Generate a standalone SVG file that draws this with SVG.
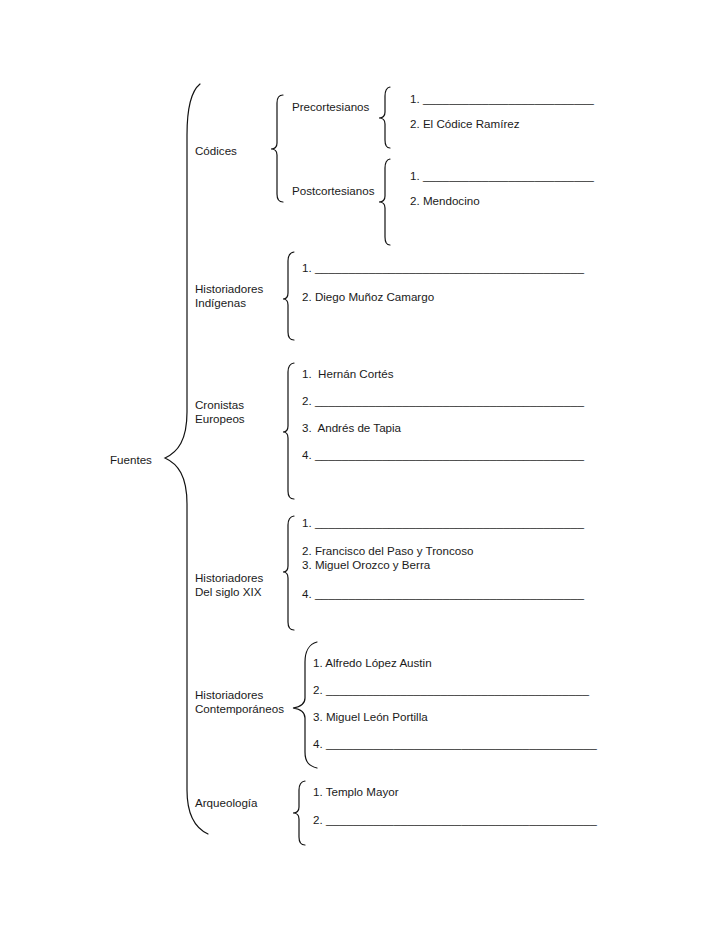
<svg xmlns="http://www.w3.org/2000/svg" width="728" height="943" viewBox="0 0 728 943">
<style>
text{font-family:"Liberation Sans",Arial,sans-serif;font-size:11.6px;fill:#1a1a1a}
.b{fill:none;stroke:#111;stroke-width:1.2;stroke-linecap:round}
</style>
<rect width="728" height="943" fill="#fff"/>
<g id="connectors">
<path class="b" d="M200,84 C190,92 187,110 187,135 L187,412 C187,440 178,452 165,458 C178,464 187,476 187,504 L187,790 C187,815 195,828 208,834"/>
<path class="b" d="M283,95 Q277,95 277,103 L277,143 Q277,149 271,149 Q277,149 277,155 L277,194 Q277,202 283,202"/>
<path class="b" d="M390,87 Q385,88 385,96 L385,112 Q385,118 379,118 Q385,118 385,124 L385,140 Q385,148 390,148"/>
<path class="b" d="M390,159 Q385,160 385,168 L385,196 Q385,202 379,202 Q385,202 385,208 L385,237 Q385,245 390,245"/>
<path class="b" d="M294,252 Q288,253 288,261 L288,293 Q288,299 283,299 Q288,299 288,305 L288,332 Q288,340 294,340"/>
<path class="b" d="M294,363 Q288,364 288,372 L288,426 Q288,432 283,432 Q288,432 288,438 L288,491 Q288,499 294,499"/>
<path class="b" d="M294,516 Q288,517 288,525 L288,566 Q288,572 283,572 Q288,572 288,578 L288,622 Q288,630 294,630"/>
<path class="b" d="M317,642 C309,644 305,652 305,662 L305,698 C305,704 300,707 293,708 C300,709 305,712 305,718 L305,752 C305,762 309,766 317,768"/>
<path class="b" d="M305,781 Q299,782 299,790 L299,807 Q299,813 293,813 Q299,813 299,819 L299,837 Q299,845 305,845"/>
</g>
<g id="fuentes"><text x="110" y="464">Fuentes</text></g>
<g id="codices"><text x="195" y="155">Códices</text></g>
<g id="precortesianos"><text x="292" y="111">Precortesianos</text></g>
<g id="postcortesianos"><text x="292" y="195">Postcortesianos</text></g>
<g id="pre-items">
<text x="410" y="103">1. <tspan textLength="171" lengthAdjust="spacingAndGlyphs">__________________________</tspan></text>
<text x="410" y="128">2. El Códice Ramírez</text>
</g>
<g id="post-items">
<text x="410" y="180">1. <tspan textLength="171" lengthAdjust="spacingAndGlyphs">__________________________</tspan></text>
<text x="410" y="205">2. Mendocino</text>
</g>
<g id="indigenas">
<text x="195" y="293">Historiadores</text>
<text x="195" y="307">Indígenas</text>
</g>
<g id="indigenas-items">
<text x="302" y="272">1. <tspan textLength="269" lengthAdjust="spacingAndGlyphs">________________________________________</tspan></text>
<text x="302" y="301">2. Diego Muñoz Camargo</text>
</g>
<g id="cronistas">
<text x="195" y="409">Cronistas</text>
<text x="195" y="423">Europeos</text>
</g>
<g id="cronistas-items">
<text x="302" y="378" xml:space="preserve">1.  Hernán Cortés</text>
<text x="302" y="405">2. <tspan textLength="269" lengthAdjust="spacingAndGlyphs">________________________________________</tspan></text>
<text x="302" y="432" xml:space="preserve">3.  Andrés de Tapia</text>
<text x="302" y="459">4. <tspan textLength="269" lengthAdjust="spacingAndGlyphs">________________________________________</tspan></text>
</g>
<g id="sigloxix">
<text x="195" y="582">Historiadores</text>
<text x="195" y="596">Del siglo XIX</text>
</g>
<g id="sigloxix-items">
<text x="302" y="527">1. <tspan textLength="269" lengthAdjust="spacingAndGlyphs">________________________________________</tspan></text>
<text x="302" y="555">2. Francisco del Paso y Troncoso</text>
<text x="302" y="569">3. Miguel Orozco y Berra</text>
<text x="302" y="598">4. <tspan textLength="269" lengthAdjust="spacingAndGlyphs">________________________________________</tspan></text>
</g>
<g id="contemporaneos">
<text x="195" y="699">Historiadores</text>
<text x="195" y="713">Contemporáneos</text>
</g>
<g id="contemporaneos-items">
<text x="313" y="667">1. Alfredo López Austin</text>
<text x="313" y="694">2. <tspan textLength="263" lengthAdjust="spacingAndGlyphs">_______________________________________</tspan></text>
<text x="313" y="721">3. Miguel León Portilla</text>
<text x="313" y="748">4. <tspan textLength="271" lengthAdjust="spacingAndGlyphs">________________________________________</tspan></text>
</g>
<g id="arqueologia"><text x="195" y="807">Arqueología</text></g>
<g id="arqueologia-items">
<text x="313" y="796">1. Templo Mayor</text>
<text x="313" y="824">2. <tspan textLength="271" lengthAdjust="spacingAndGlyphs">________________________________________</tspan></text>
</g>
</svg>
